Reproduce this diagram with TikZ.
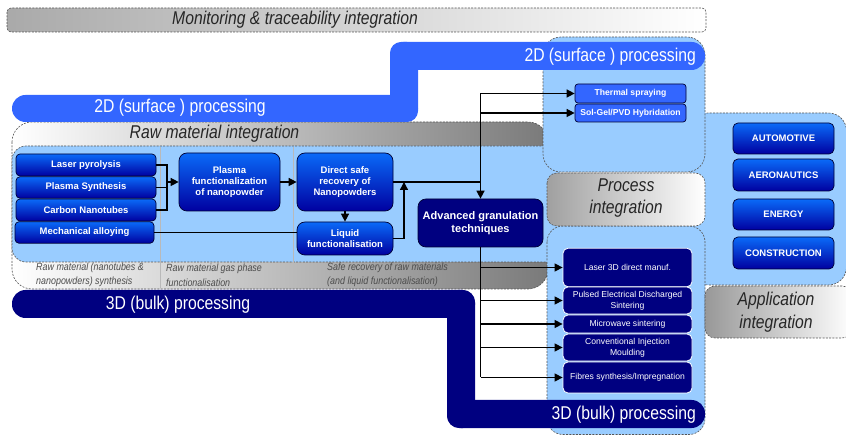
\documentclass[tikz,border=0pt]{standalone}
\usepackage{fontspec}
\setmainfont{Liberation Sans}
\newfontfamily\narrowsans[FakeStretch=0.85]{Liberation Sans}
\usetikzlibrary{arrows.meta}

\definecolor{c2d}{HTML}{3366FF}
\definecolor{c3d}{HTML}{000080}
\definecolor{lblue}{HTML}{99CCFF}
\definecolor{btop}{HTML}{0A6AF8}
\definecolor{bbot}{HTML}{0000A0}
\definecolor{nborder}{HTML}{000033}
\definecolor{dashgray}{HTML}{555555}
\definecolor{rawgray}{HTML}{7A7A7A}
\definecolor{lgray}{HTML}{A0A0A0}

\begin{document}
\begin{tikzpicture}[x=1pt,y=-1pt,
  dashline/.style={draw=dashgray, dash pattern=on 2pt off 1.3pt, line width=0.6pt},
  zone/.style={dashline, fill=lblue},
  greybox/.style={dashline, left color=lgray, right color=white},
  bandtext/.style={text=white, inner sep=0pt, font=\narrowsans\fontsize{18.5}{22}\selectfont},
  hdrtext/.style={text=black!85, inner sep=0pt, align=center, font=\narrowsans\itshape\fontsize{18.5}{22.5}\selectfont},
  notetext/.style={text=black!70, inner sep=0pt, align=left, anchor=west, font=\narrowsans\itshape\fontsize{10.5}{14.5}\selectfont},
  bluebox/.style={draw=nborder, line width=0.7pt, top color=btop, bottom color=bbot, text=white,
    inner sep=0pt, align=center, rounded corners=4pt, font=\bfseries\fontsize{9.5}{11.3}\selectfont},
  bigbox/.style={bluebox, rounded corners=8pt},
  navybox/.style={draw=nborder, line width=0.7pt, fill=c3d, text=white, inner sep=0pt, align=center,
    rounded corners=8pt, font=\bfseries\fontsize{11}{13}\selectfont},
  surfbox/.style={draw=nborder, line width=0.7pt, fill=c2d, text=white, inner sep=0pt, align=center,
    rounded corners=3pt, minimum width=111pt, font=\bfseries\fontsize{8.6}{10}\selectfont},
  bulkbox/.style={draw=white, line width=0.8pt, fill=c3d, text=white, inner sep=0pt, align=center,
    rounded corners=5pt, minimum width=129pt, font=\fontsize{8.6}{11}\selectfont},
  appbox/.style={bluebox, rounded corners=5pt, minimum width=101pt},
  conn/.style={line width=1.4pt, black},
  arr/.style={conn, -{Triangle[length=8pt,width=8pt]}}
]
\useasboundingbox (0,0) rectangle (846,435);

% ---------- light blue zones and grey integration areas ----------
\path[zone, rounded corners=18pt] (690,113) rectangle (846.5,285);
\path[dashline, left color=white, right color=rawgray, rounded corners=20pt] (12,122) rectangle (548,289);
\path[fill=lblue, rounded corners=14pt] (12,146) rectangle (560,262);
\draw[dashline, rounded corners=14pt] (548,146) -- (12,146) -- (12,262) -- (548,262);
\path[zone, rounded corners=18pt] (543,37) rectangle (705,172);
\path[zone, rounded corners=16pt] (547,226) rectangle (705,434.5);
\path[greybox, rounded corners=10pt] (547,173) rectangle (705,226);
\path[greybox, left color=lgray!95!black, rounded corners=10pt] (705,286) rectangle (852,338);
\path[dashline, left color=lgray!90, right color=white, rounded corners=4pt] (7,8) rectangle (706,32);

% column separators inside the raw material area
\draw[gray!55, line width=0.5pt] (160,147) -- (160,288);
\draw[gray!55, line width=0.5pt] (293,147) -- (293,288);

% ---------- area titles ----------
\node[hdrtext] (mon) at (295,20) {Monitoring \& traceability integration};
\node[hdrtext] (rawhdr) at (214.5,133.5) {Raw material integration};
\node[hdrtext] (prochdr) at (626,198) {Process\\integration};
\node[hdrtext] (apphdr) at (776,312) {Application\\integration};

\node[notetext] (note1) at (36,275) {Raw material (nanotubes \&\\nanopowders) synthesis};
\node[notetext] (note2) at (166,275) {Raw material gas phase\\functionalisation};
\node[notetext] (note3) at (327,275) {Safe recovery of raw materials\\(and liquid functionalisation)};

% ---------- 2D (surface) band ----------
\fill[c2d, rounded corners=13.5pt] (12,95) rectangle (418,122);
\fill[c2d, rounded corners=11pt] (390,42) rectangle (418,122);
\fill[c2d, rounded corners=13.5pt] (390,42) rectangle (705,70);
\node[bandtext] (band2a) at (180,108) {2D (surface ) processing};
\node[bandtext, anchor=east] (band2b) at (696,56.5) {2D (surface ) processing};

% ---------- 3D (bulk) band ----------
\fill[c3d, rounded corners=13.5pt] (12,290) rectangle (475,318);
\fill[c3d, rounded corners=12pt] (447,290) rectangle (475,428);
\fill[c3d, rounded corners=13.5pt] (447,400) rectangle (705,428);
\node[bandtext] (band3a) at (178,305) {3D (bulk) processing};
\node[bandtext, anchor=east] (band3b) at (696,414.5) {3D (bulk) processing};

% ---------- raw material synthesis ----------
\node[bluebox, minimum width=140pt, minimum height=22pt] (lp) at (86,165) {Laser pyrolysis};
\node[bluebox, minimum width=140pt, minimum height=21.5pt] (ps) at (86,187.5) {Plasma Synthesis};
\node[bluebox, minimum width=140pt, minimum height=22pt] (cn) at (86,210) {Carbon Nanotubes};
\node[bluebox, minimum width=139pt, minimum height=21.5pt] (ma) at (84.5,232.5) {Mechanical alloying};

\node[bigbox, minimum width=101pt, minimum height=58pt] (pf) at (229.5,182) {Plasma\\functionalization\\of nanopowder};
\node[bigbox, minimum width=96pt, minimum height=58pt] (ds) at (345,182) {Direct safe\\recovery of\\Nanopowders};
\node[bigbox, minimum width=96pt, minimum height=33pt] (lf) at (345,238.5) {Liquid\\functionalisation};
\node[navybox, minimum width=125pt, minimum height=48pt] (ag) at (480.5,223) {Advanced granulation\\techniques};

% ---------- surface processes ----------
\node[surfbox, minimum height=19pt] (ts) at (630.5,93.5) {Thermal spraying};
\node[surfbox, minimum height=18pt] (sg) at (630.5,113) {Sol-Gel/PVD Hybridation};

% ---------- bulk processes ----------
\node[bulkbox, minimum height=38.5pt] (l3d) at (627.5,267.5) {Laser 3D direct manuf.};
\node[bulkbox, minimum height=27pt] (peds) at (627.5,300.5) {Pulsed Electrical Discharged\\Sintering};
\node[bulkbox, minimum height=18pt] (mw) at (627.5,324) {Microwave sintering};
\node[bulkbox, minimum height=27pt] (cim) at (627.5,347.5) {Conventional Injection\\Moulding};
\node[bulkbox, minimum height=31pt] (fsi) at (627.5,377.5) {Fibres synthesis/Impregnation};

% ---------- application sectors ----------
\node[appbox, minimum height=31pt] (auto) at (783.5,138.5) {AUTOMOTIVE};
\node[appbox, minimum height=32pt] (aero) at (783.5,175) {AERONAUTICS};
\node[appbox, minimum height=31pt] (ener) at (783.5,214.5) {ENERGY};
\node[appbox, minimum height=32pt] (cons) at (783.5,253) {CONSTRUCTION};

% ---------- connectors ----------
\coordinate (join1) at (167,182);
\draw[conn] (lp.east) -| (join1);
\draw[conn] (ps.east) -| (join1);
\draw[conn] (cn.east) -| (join1);
\draw[arr] (join1) -- (pf.west);
\draw[arr] (pf.east) -- (ds.west);
\draw[arr] (ds.south) -- (lf.north);
\draw[conn] (ma.east) -- (ma.east -| lf.west);
\coordinate (join2) at (404,182);
\draw[arr] (lf.east) -| (join2);
\draw[conn] (ds.east) -- (ds.east -| ag.north);
\coordinate (top) at (ag.north |- ts.west);
\draw[arr] (top) -- (ag.north);
\draw[arr] (top) -- (ts.west);
\draw[arr] (ag.north |- sg.west) -- (sg.west);

\draw[conn] (ag.south) -- (ag.south |- fsi.west);
\foreach \b in {l3d,peds,mw,cim,fsi}
  \draw[arr] (ag.south |- \b.west) -- (\b.west);
\end{tikzpicture}
\end{document}
